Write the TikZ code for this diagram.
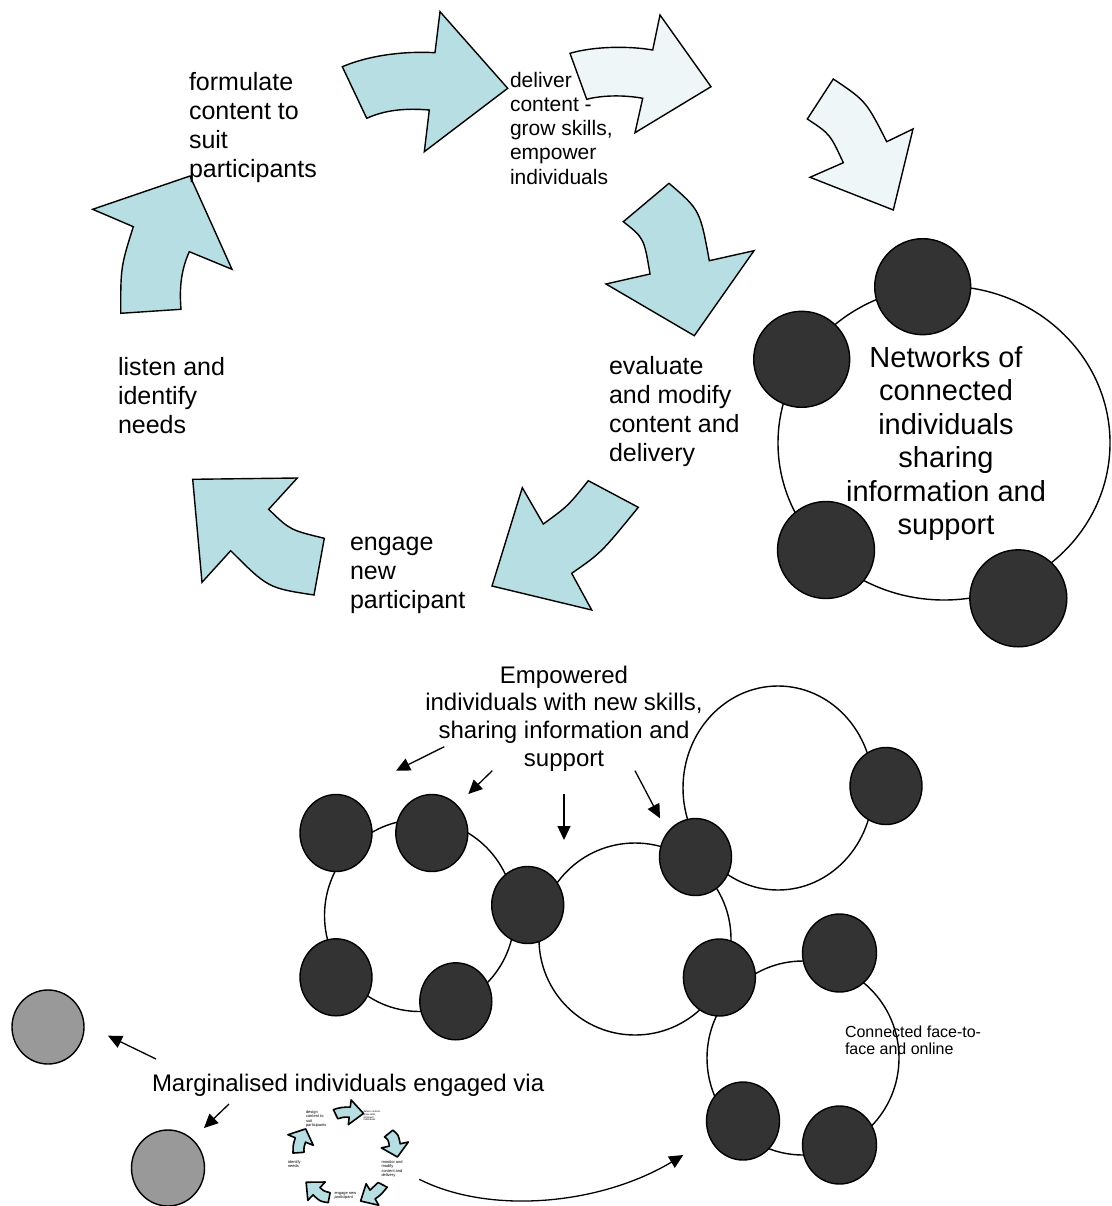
\documentclass[tikz,border=0pt]{standalone}
\usepackage{fontspec}
\setmainfont{Liberation Sans}
\usetikzlibrary{arrows.meta,shapes.geometric}
\definecolor{cteal}{RGB}{183,222,226}
\definecolor{clight}{RGB}{238,246,248}
\definecolor{cdark}{RGB}{51,51,51}
\definecolor{cgray}{RGB}{153,153,153}
\newcommand{\shapeA}{(120.7,313.3) -- (181,309.3) .. controls (179,285) and (182,268) .. (189.3,251.7) -- (232,269.3) -- (190,176) -- (92.7,209.3) -- (133.3,226.7) .. controls (120.7,267) .. (120.7,313.3) -- cycle}
\newcommand{\shapeB}{(342.3,66.7) -- (366.7,118.3) .. controls (385,110) and (405,108) .. (429.3,110) -- (424.3,151.7) -- (507.7,88.3) -- (440,11.7) -- (435,52.7) .. controls (405,51) and (370,55) .. (342.3,66.7) -- cycle}
\newcommand{\shapeC}{(570,53.3) -- (586.7,99.3) .. controls (603,95) and (625,95) .. (642.7,98.3) -- (635,132.7) -- (711,86.7) -- (660,15) -- (652.7,50) .. controls (630,46) and (595,46) .. (570,53.3) -- cycle}
\newcommand{\shapeD}{(833.3,79) -- (807.3,119) .. controls (830,134) .. (843.3,162.7) -- (810,177.3) -- (893.3,210) -- (913,129) -- (886.7,141.7) .. controls (866,101) .. (833.3,79) -- cycle}
\newcommand{\shapeE}{(669,183.3) -- (623.3,221.7) .. controls (644,238) .. (650,274) -- (606,284) -- (694.3,335.7) -- (754,250.7) -- (709.3,260.7) .. controls (700,210) .. (669,183.3) -- cycle}
\newcommand{\shapeF}{(588.3,480.7) -- (638.3,507.3) .. controls (601,553) .. (571.7,573.3) -- (591.7,610) -- (492,586) -- (522.3,487.7) -- (543.3,524) .. controls (568,506) .. (588.3,480.7) -- cycle}
\newcommand{\shapeG}{(192.7,479.3) -- (297.3,478) -- (268.7,509.3) .. controls (290,530) .. (324.3,538.3) -- (314,595) .. controls (268,588) .. (230.7,550.7) -- (202,582.3) -- cycle}
\begin{document}
\begin{tikzpicture}[x=1pt,y=-1pt,
  every node/.style={inner sep=0pt, outer sep=0pt},
  tealarrow/.style={fill=cteal, draw=black, line width=1.4pt},
  lightarrow/.style={fill=clight, draw=black, line width=1.4pt},
  tinyarrow/.style={fill=cteal, draw=black, line width=1.6pt, line join=round},
  netring/.style={ellipse, draw=black, line width=1.4pt},
  netdot/.style={ellipse, draw=black, line width=1.4pt, fill=cdark},
  graydot/.style={ellipse, draw=black, line width=1.4pt, fill=cgray},
  pointer/.style={line width=1.3pt, -{Triangle[length=14pt,width=13pt]}},
  bigtxt/.style={font=\fontsize{25}{29}\selectfont, align=left, anchor=base west},
  tinytxt/.style={font=\fontsize{4}{4.6}\selectfont, align=left, anchor=base west},
]
\fill[white] (0,0) rectangle (1111,1206);
\useasboundingbox (0,0) rectangle (1111,1206);

% main cycle arrows
\draw[tealarrow] \shapeA;
\draw[tealarrow] \shapeB;
\draw[lightarrow] \shapeC;
\draw[lightarrow] \shapeD;
\draw[tealarrow] \shapeE;
\draw[tealarrow] \shapeF;
\draw[tealarrow] \shapeG;

% main cycle texts (anchor = baseline of the last line)
\node[bigtxt] (t1) at (189,178) {formulate\\content to\\suit\\participants};
\node[font=\fontsize{21}{24.2}\selectfont, align=left, anchor=base west] (t2) at (510,184.1) {deliver\\content -\\grow skills,\\empower\\individuals};
\node[bigtxt] (t3) at (118,433) {listen and\\identify\\needs};
\node[bigtxt] (t4) at (609,461.3) {evaluate\\and modify\\content and\\delivery};
\node[bigtxt] (t5) at (350,608) {engage\\new\\participant};

% top-right network
\node[netring, minimum width=332, minimum height=314] (ringT) at (944,443) {};
\node[netdot, minimum width=96, minimum height=96] (d1) at (922.7,286.7) {};
\node[netdot, minimum width=96, minimum height=96] (d2) at (801.7,359.3) {};
\node[netdot, minimum width=97, minimum height=97] (d3) at (826,550) {};
\node[netdot, minimum width=97, minimum height=97] (d4) at (1018.3,598.3) {};
\node[font=\fontsize{29}{33.5}\selectfont, align=center, anchor=base] (t6) at (946,534.8) {Networks of\\connected\\individuals\\sharing\\information and\\support};

% lower network
\node[netring, minimum width=190, minimum height=192] (ringL) at (419.5,915.5) {};
\node[netring, minimum width=192, minimum height=192] (ringM) at (635,939) {};
\node[netring, minimum width=190, minimum height=204] (ringTR) at (778,788) {};
\node[netring, minimum width=192, minimum height=194] (ringBR) at (803,1058) {};
\node[netdot, minimum width=72, minimum height=77] (c1) at (336,833) {};
\node[netdot, minimum width=72, minimum height=77] (c2) at (431.8,833) {};
\node[netdot, minimum width=72, minimum height=77] (c3) at (527.7,905) {};
\node[netdot, minimum width=72, minimum height=77] (c4) at (336,977.3) {};
\node[netdot, minimum width=72, minimum height=77] (c5) at (455.8,1001.3) {};
\node[netdot, minimum width=72, minimum height=77] (c6) at (695.5,857) {};
\node[netdot, minimum width=72, minimum height=77] (c7) at (886,786) {};
\node[netdot, minimum width=72, minimum height=77] (c8) at (719.4,977.5) {};
\node[netdot, minimum width=74, minimum height=78] (c9) at (839.5,953) {};
\node[netdot, minimum width=73, minimum height=78] (c10) at (743,1121) {};
\node[netdot, minimum width=74, minimum height=78] (c11) at (839.5,1145) {};
\node[font=\fontsize{16}{17.5}\selectfont, align=left, anchor=base west] (t9) at (845,1054.5) {Connected face-to-\\face and online};

\node[font=\fontsize{24}{27.6}\selectfont, align=center, anchor=base] (t7) at (564,766.1) {Empowered\\individuals with new skills,\\sharing information and\\support};
\coordinate (p1s) at (444.3,746.7); \coordinate (p1e) at (396,770.7);
\coordinate (p2s) at (492.3,770.7); \coordinate (p2e) at (468.3,794);
\coordinate (p3s) at (564,794);     \coordinate (p3e) at (564,840);
\coordinate (p4s) at (635,770.7);   \coordinate (p4e) at (660,818.3);
\draw[pointer] (p1s) -- (p1e);
\draw[pointer] (p2s) -- (p2e);
\draw[pointer] (p3s) -- (p3e);
\draw[pointer] (p4s) -- (p4e);

% marginalised individuals
\node[graydot, minimum width=72, minimum height=74] (g1) at (48,1027) {};
\node[graydot, minimum width=73, minimum height=76] (g2) at (168,1168) {};
\node[font=\fontsize{24}{27}\selectfont, anchor=base west] (t8) at (152,1091) {Marginalised individuals engaged via};
\coordinate (m1s) at (156,1059); \coordinate (m1e) at (108,1035.7);
\coordinate (m2s) at (229,1104); \coordinate (m2e) at (204,1128);
\draw[pointer] (m1s) -- (m1e);
\draw[pointer] (m2s) -- (m2e);

% tiny cycle
\begin{scope}[shift={(288,1100)}, xscale=0.182, yscale=0.176, shift={(-93,-12)}]
  \draw[tinyarrow] \shapeA;
  \draw[tinyarrow] \shapeB;
  \draw[tinyarrow] \shapeE;
  \draw[tinyarrow] \shapeF;
  \draw[tinyarrow] \shapeG;
\end{scope}
\node[tinytxt] (s1) at (306,1126.8) {design\\content to\\suit\\participants};
\node[font=\fontsize{2.5}{2.8}\selectfont, align=left, anchor=base west] (s2) at (363.6,1120.9) {deliver content -\\grow skills,\\empower\\individuals};
\node[tinytxt] (s3) at (288,1167.6) {identify\\needs};
\node[tinytxt] (s4) at (381.5,1176.8) {monitor and\\modify\\content and\\delivery};
\node[tinytxt] (s5) at (334.5,1198.6) {engage new\\participant};

% long arrow to the network
\coordinate (ls) at (419.3,1179.3); \coordinate (le) at (683.3,1155);
\draw[pointer] (ls) .. controls (490,1215) and (600,1205) .. (le);
\end{tikzpicture}
\end{document}
